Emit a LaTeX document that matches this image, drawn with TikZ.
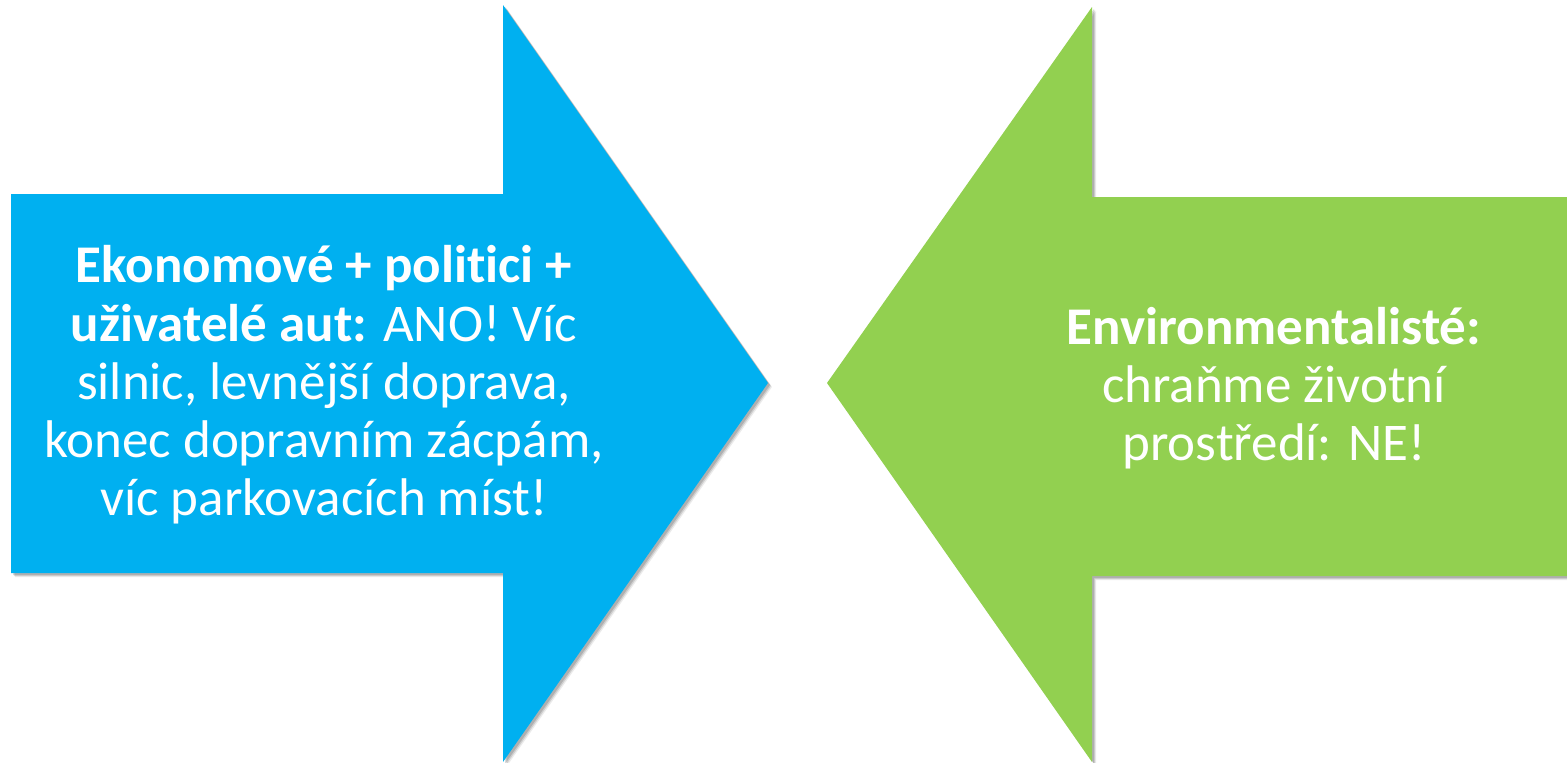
\documentclass[tikz,border=0pt]{standalone}
\usepackage{fontspec}
\setmainfont{Carlito}[Ligatures=NoCommon]
\usetikzlibrary{shadows}
\definecolor{arrblue}{HTML}{00B0F0}
\definecolor{arrgreen}{HTML}{92D050}
\tikzset{
  bigarrow/.style={draw=none,
    drop shadow={shadow xshift=4pt, shadow yshift=-4pt, opacity=0.08, fill=black},
    drop shadow={shadow xshift=3pt, shadow yshift=-3pt, opacity=0.12, fill=black},
    drop shadow={shadow xshift=2pt, shadow yshift=-2pt, opacity=0.15, fill=black}},
  arrtext/.style={text=white, align=center, font=\fontsize{53}{58.3}\selectfont, inner sep=0pt}
}
\begin{document}
\begin{tikzpicture}[x=1pt,y=-1pt]
\useasboundingbox (0,0) rectangle (1567,763);
% blue arrow pointing right
\path[bigarrow, fill=arrblue]
  (11,194) -- (503,194) -- (503,5) -- (768,383) -- (503,762) -- (503,573) -- (11,573) -- cycle;
% green arrow pointing left
\path[bigarrow, fill=arrgreen]
  (1575,197) -- (1092,197) -- (1092,7) -- (827,383) -- (1092,762) -- (1092,576) -- (1575,576) -- cycle;
\node[arrtext] (left) at (324,385)
  {\textbf{Ekonomové + politici +}\\
   \textbf{uživatelé aut:} ANO! Víc\\
   silnic, levnější doprava,\\
   konec dopravním zácpám,\\
   víc parkovacích míst!};
\node[arrtext] (right) at (1274,388)
  {\textbf{Environmentalisté:}\\
   chraňme životní\\
   prostředí: NE!};
\end{tikzpicture}
\end{document}
